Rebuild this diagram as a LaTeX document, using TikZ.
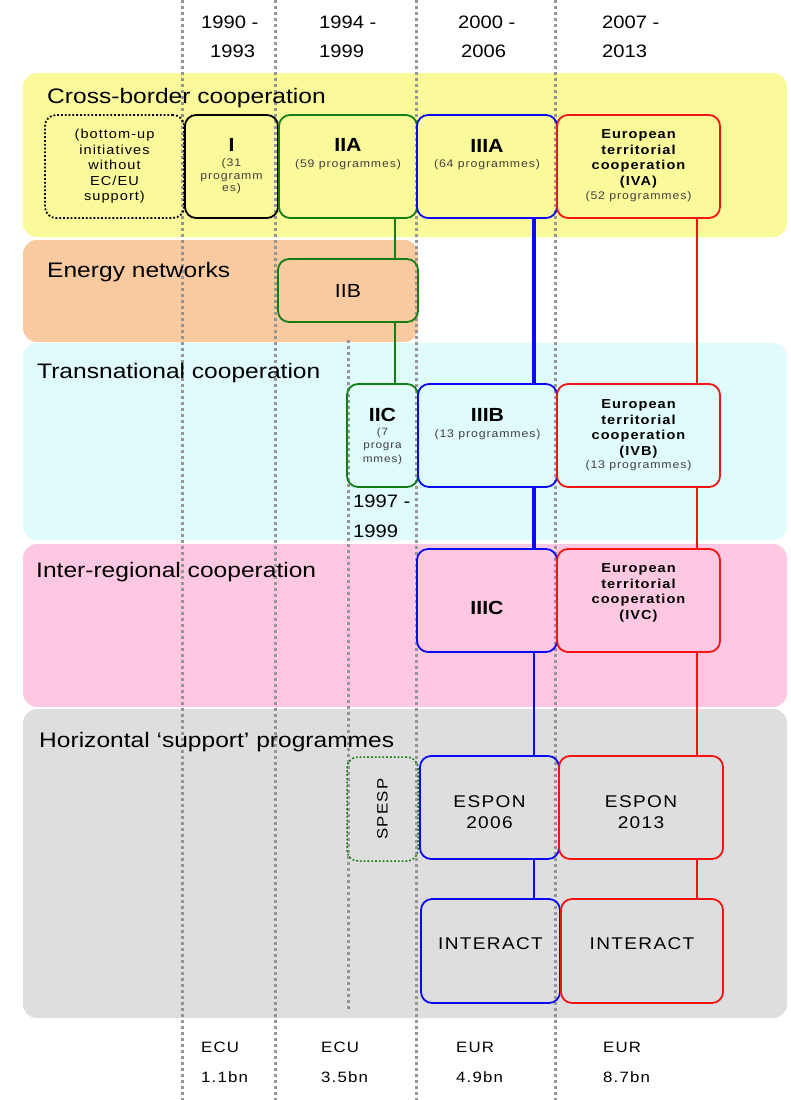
\documentclass[tikz,border=0pt]{standalone}
\usepackage{fontspec}
\setmainfont{Liberation Sans}[FakeStretch=1.12]
\newfontfamily\spacedsf{Liberation Sans}[FakeStretch=1.12,LetterSpace=8]
\newfontfamily\titlesf{Liberation Sans}[FakeStretch=1.17]

\definecolor{bandyellow}{RGB}{250,250,155}
\definecolor{bandpeach}{RGB}{249,201,160}
\definecolor{bandcyan}{RGB}{224,251,251}
\definecolor{bandpink}{RGB}{255,200,226}
\definecolor{bandgray}{RGB}{222,222,222}
\definecolor{dotgray}{RGB}{150,150,150}
\definecolor{proggreen}{RGB}{20,125,20}
\definecolor{progblue}{RGB}{10,10,245}
\definecolor{progred}{RGB}{245,20,20}

\tikzset{
  band/.style={rounded corners=14pt},
  period/.style={draw=dotgray, line width=3pt, dash pattern=on 2.8pt off 3.2pt},
  prog/.style={draw, rounded corners=11pt, line width=1.8pt, inner sep=0pt},
  dotbox/.style={line width=1.8pt, dash pattern=on 1.8pt off 2pt},
  link/.style={line width=2.4pt},
  bandtitle/.style={anchor=base west, inner sep=0pt, font=\titlesf\fontsize{21}{25}\selectfont},
  yeartext/.style={anchor=base west, inner sep=0pt, font=\fontsize{18}{22}\selectfont},
  progname/.style={anchor=base, inner sep=0pt, font=\bfseries\fontsize{19}{22}\selectfont},
  prognote/.style={inner sep=0pt, align=center, text=black!75, font=\spacedsf\fontsize{11}{12.5}\selectfont},
  etcname/.style={anchor=north, inner sep=0pt, align=center, font=\spacedsf\bfseries\fontsize{13}{15.5}\selectfont},
  supportname/.style={inner sep=0pt, align=center, font=\spacedsf\fontsize{17}{21}\selectfont},
  budget/.style={anchor=base west, inner sep=0pt, font=\spacedsf\fontsize{15}{18}\selectfont},
}

\begin{document}
\begin{tikzpicture}[x=1pt,y=-1pt]
  \useasboundingbox (0,0) rectangle (790,1100);

  % Coloured bands
  \fill[band, bandyellow] (23,73) rectangle (787,237);
  \fill[band, bandpeach] (23,240) rectangle (418,342);
  \fill[band, bandcyan] (23,343) rectangle (787,540);
  \fill[band, bandpink] (23,544) rectangle (787,707);
  \fill[band, bandgray] (23,709) rectangle (787,1018);

  % Period separators
  \draw[period] (182,0) -- (182,1100);
  \draw[period] (275,0) -- (275,1100);
  \draw[period] (416,0) -- (416,1100);
  \draw[period] (555,0) -- (555,1100);
  \draw[period] (348,340) -- (348,1012);

  % Band titles
  \node[bandtitle] (crossborder) at (47,103) {Cross-border cooperation};
  \node[bandtitle] (energy) at (47,277) {Energy networks};
  \node[bandtitle] (transnational) at (37,378) {Transnational cooperation};
  \node[bandtitle] (interregional) at (36,577) {Inter-regional cooperation};
  \node[bandtitle] (horizontal) at (39,747) {Horizontal ‘support’ programmes};

  % Programme periods on top
  \foreach \n/\xa/\xb/\first/\second in {p1/201/210/1990 -/1993, p2/319/319/1994 -/1999, p3/458/461/2000 -/2006, p4/602/602/2007 -/2013} {
    \node[yeartext] (start\n) at (\xa,28) {\first};
    \node[yeartext] (end\n) at (\xb,57) {\second};
  }
  \node[yeartext] (startIIC) at (353,507) {1997 -};
  \node[yeartext] (endIIC) at (353,537) {1999};

  % Cross-border boxes
  \node[prog, dotbox, minimum width=139pt, minimum height=103pt, align=center,
        font=\spacedsf\fontsize{13}{15.5}\selectfont] (bottomup) at (114.5,166.5)
        {(bottom-up\\initiatives\\without\\EC/EU\\support)};
  \node[prog, minimum width=93pt, minimum height=103pt] (progI) at (231.5,166.5) {};
  \node[prog, draw=proggreen, minimum width=138pt, minimum height=103pt] (IIA) at (348,166.5) {};
  \node[prog, draw=progblue, minimum width=140pt, minimum height=103pt] (IIIA) at (487,166.5) {};
  \node[prog, draw=progred, minimum width=163pt, minimum height=103pt] (IVA) at (638.5,166.5) {};

  \node[progname] (progIname) at (231.5,151) {I};
  \node[prognote, anchor=north] (progInote) at (231.5,158.5) {(31\\programm\\es)};
  \node[progname] (IIAname) at (348,151) {IIA};
  \node[prognote, anchor=base] (IIAnote) at (348,167) {(59 programmes)};
  \node[progname] (IIIAname) at (487,152) {IIIA};
  \node[prognote, anchor=base] (IIIAnote) at (487,167) {(64 programmes)};
  \node[etcname] (IVAname) at (638.5,129.5) {European\\territorial\\cooperation\\(IVA)};
  \node[prognote, anchor=base] (IVAnote) at (638.5,199) {(52 programmes)};

  % Energy networks
  \node[prog, draw=proggreen, minimum width=140pt, minimum height=63pt,
        font=\fontsize{19}{22}\selectfont] (IIB) at (348,290.5) {IIB};

  % Transnational boxes
  \node[prog, draw=proggreen, minimum width=71pt, minimum height=103pt] (IIC) at (382.5,435.5) {};
  \node[prog, draw=progblue, minimum width=139pt, minimum height=103pt] (IIIB) at (487.5,435.5) {};
  \node[prog, draw=progred, minimum width=163pt, minimum height=103pt] (IVB) at (638.5,435.5) {};

  \node[progname] (IICname) at (382.5,421) {IIC};
  \node[prognote, anchor=north, font=\spacedsf\fontsize{10.5}{13.5}\selectfont] (IICnote) at (382.5,427.5) {(7\\progra\\mmes)};
  \node[progname] (IIIBname) at (487.5,421) {IIIB};
  \node[prognote, anchor=base] (IIIBnote) at (487.5,437) {(13 programmes)};
  \node[etcname] (IVBname) at (638.5,399.5) {European\\territorial\\cooperation\\(IVB)};
  \node[prognote, anchor=base] (IVBnote) at (638.5,468) {(13 programmes)};

  % Inter-regional boxes
  \node[prog, draw=progblue, minimum width=140pt, minimum height=103pt] (IIIC) at (487,600.5) {};
  \node[prog, draw=progred, minimum width=163pt, minimum height=103pt] (IVC) at (638.5,600.5) {};
  \node[progname] (IIICname) at (487,614) {IIIC};
  \node[etcname] (IVCname) at (638.5,563.5) {European\\territorial\\cooperation\\(IVC)};

  % Horizontal support boxes
  \node[prog, draw=proggreen, dotbox, line width=1.5pt, minimum width=71pt, minimum height=104pt] (spesp) at (382.5,809) {};
  \node[supportname, rotate=90, font=\spacedsf\fontsize{15}{18}\selectfont] (spespname) at (382.5,809) {SPESP};
  \node[prog, draw=progblue, minimum width=139pt, minimum height=103pt] (espon06) at (489.5,807.5) {};
  \node[prog, draw=progred, minimum width=164pt, minimum height=103pt] (espon13) at (641,807.5) {};
  \node[supportname, anchor=north] (espon06name) at (489.5,795) {ESPON\\2006};
  \node[supportname, anchor=north] (espon13name) at (641,795) {ESPON\\2013};
  \node[prog, draw=progblue, minimum width=139pt, minimum height=104pt] (interact06) at (490.5,951) {};
  \node[prog, draw=progred, minimum width=162pt, minimum height=104pt] (interact13) at (642,951) {};
  \node[supportname, anchor=base] (interact06name) at (490.5,949) {INTERACT};
  \node[supportname, anchor=base] (interact13name) at (642,949) {INTERACT};

  % Links between successive programmes
  \coordinate (greenx) at (395,0);
  \coordinate (bluex) at (534,0);
  \coordinate (redx) at (697,0);
  \draw[link, proggreen] (IIA.south -| greenx) -- (IIB.north -| greenx);
  \draw[link, proggreen] (IIB.south -| greenx) -- (IIC.north -| greenx);
  \draw[link, progblue, line width=3.2pt] (IIIA.south -| bluex) -- (IIIB.north -| bluex);
  \draw[link, progblue, line width=3.2pt] (IIIB.south -| bluex) -- (IIIC.north -| bluex);
  \draw[link, progblue, line width=1.8pt] (IIIC.south -| bluex) -- (espon06.north -| bluex);
  \draw[link, progblue, line width=1.8pt] (espon06.south -| bluex) -- (interact06.north -| bluex);
  \draw[link, progred] (IVA.south -| redx) -- (IVB.north -| redx);
  \draw[link, progred] (IVB.south -| redx) -- (IVC.north -| redx);
  \draw[link, progred] (IVC.south -| redx) -- (espon13.north -| redx);
  \draw[link, progred] (espon13.south -| redx) -- (interact13.north -| redx);

  % Budgets at the bottom
  \foreach \n/\xa/\cur/\amount in {p1/201/ECU/1.1bn, p2/321/ECU/3.5bn, p3/456/EUR/4.9bn, p4/603/EUR/8.7bn} {
    \node[budget] (currency\n) at (\xa,1052) {\cur};
    \node[budget] (amount\n) at (\xa,1082) {\amount};
  }
\end{tikzpicture}
\end{document}
